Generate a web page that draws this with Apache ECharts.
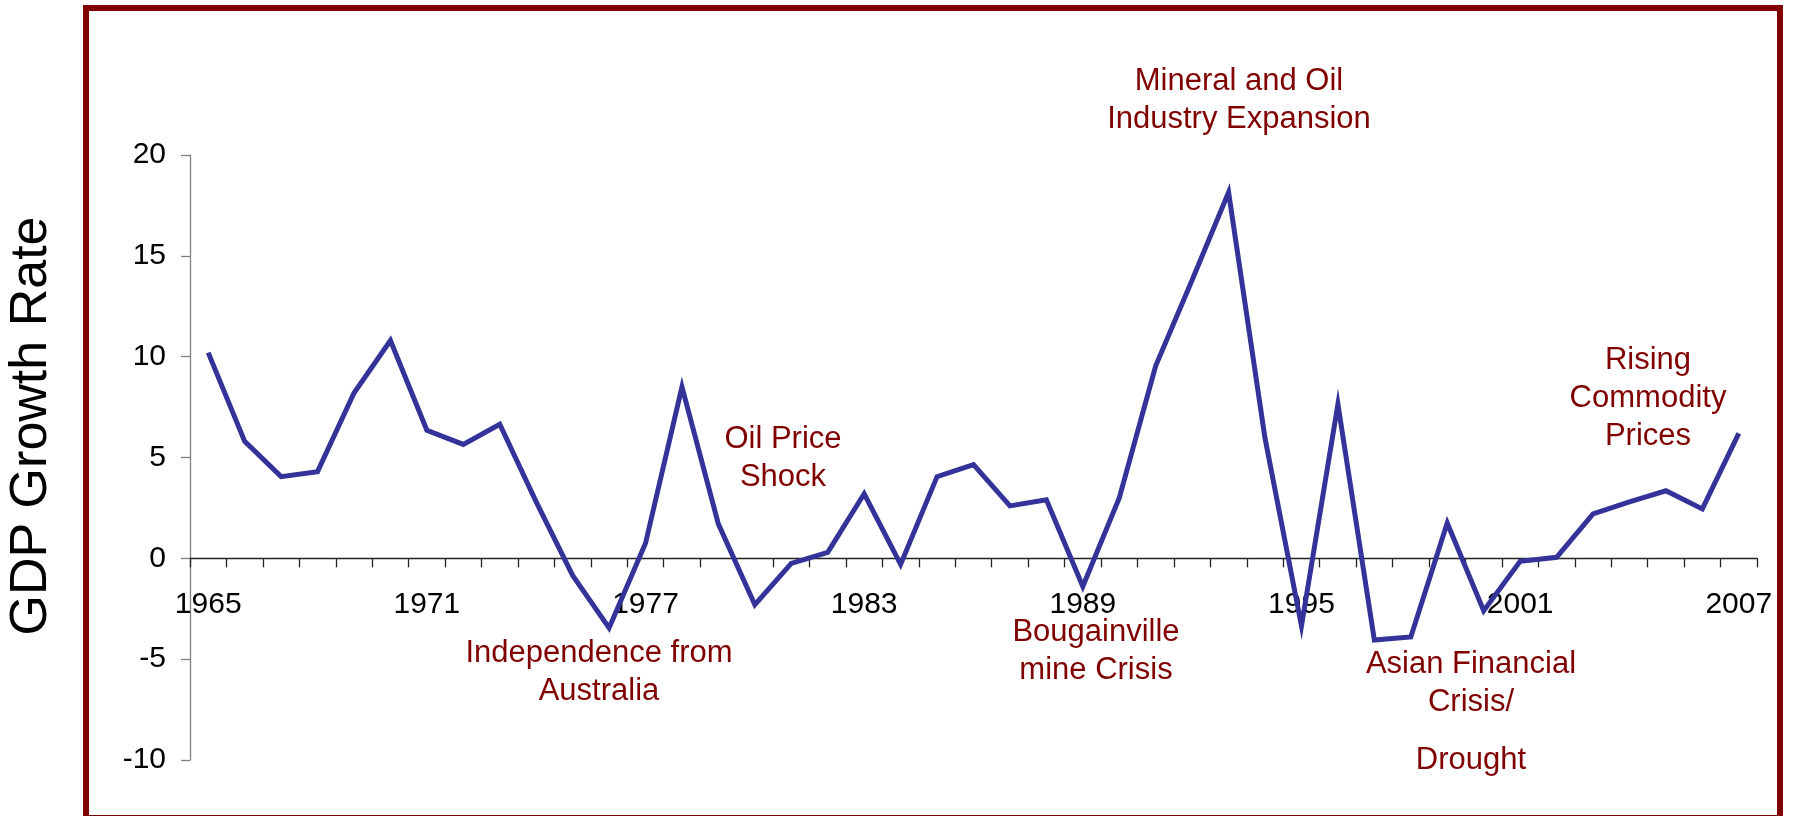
<!DOCTYPE html>
<html>
<head>
<meta charset="utf-8">
<script src="https://cdn.jsdelivr.net/npm/echarts@6/dist/echarts.min.js"></script>
<style>
html,body{margin:0;padding:0;background:#fff;}
#chart{width:1793px;height:816px;}
</style>
</head>
<body>
<div id="chart"></div>
<script>
// ---- data ----
const years = [1965,1966,1967,1968,1969,1970,1971,1972,1973,1974,1975,1976,1977,1978,1979,1980,1981,1982,1983,1984,1985,1986,1987,1988,1989,1990,1991,1992,1993,1994,1995,1996,1997,1998,1999,2000,2001,2002,2003,2004,2005,2006,2007].map(String);
const gdpGrowth = [10.2,5.8,4.05,4.3,8.2,10.8,6.35,5.65,6.65,2.8,-0.85,-3.45,0.75,8.5,1.7,-2.3,-0.25,0.3,3.2,-0.3,4.05,4.65,2.6,2.9,-1.4,3.0,9.55,13.8,18.15,5.95,-3.35,7.65,-4.05,-3.9,1.75,-2.6,-0.15,0.05,2.2,2.8,3.35,2.45,6.2];
const yTicks = [-10,-5,0,5,10,15,20];
const yAxisTitle = 'GDP Growth Rate';
const annotations = [
  'Independence from\nAustralia',
  'Oil Price\nShock',
  'Mineral and Oil\nIndustry Expansion',
  'Bougainville\nmine Crisis',
  'Asian Financial\nCrisis/',
  'Drought',
  'Rising\nCommodity\nPrices'
];

// ---- layout ----
const FONT = '"Liberation Sans", Arial, sans-serif';
const RED = '#800000';
const GRID = {left:190, top:155, width:1567, height:605};
const annoPos = [[599,672],[783,458],[1239,100],[1096,651],[1471,683],[1471,760],[1648,398]];
const yMin = yTicks[0], yMax = yTicks[yTicks.length-1];
// move the category axis up so it crosses the value axis at 0
const xAxisOffset = -((0 - yMin) / (yMax - yMin)) * GRID.height;

const chart = echarts.init(document.getElementById('chart'), null, {renderer:'canvas'});

const graphics = [
  {type:'rect', shape:{x:86,y:8,width:1694,height:810}, style:{fill:'none', stroke:RED, lineWidth:6}, z:0},
  {type:'text', x:32, y:426, rotation:Math.PI/2,
   style:{text:yAxisTitle, font:'52px '+FONT, fill:'#000', align:'center', verticalAlign:'middle', textAlign:'center', textVerticalAlign:'middle'}}
];
annotations.forEach((t,i)=>{
  graphics.push({type:'text', x:annoPos[i][0], y:annoPos[i][1],
    style:{text:t, font:'31px '+FONT, fill:RED, lineHeight:38, align:'center', verticalAlign:'middle', textAlign:'center', textVerticalAlign:'middle'}});
});

chart.setOption({
  animation:false,
  backgroundColor:'#fff',
  grid:Object.assign({containLabel:false}, GRID),
  xAxis:{
    type:'category', data:years, boundaryGap:true, position:'bottom', offset:xAxisOffset,
    axisLine:{onZero:false, lineStyle:{color:'#222', width:1.3}},
    axisTick:{show:true, interval:0, length:9, inside:false, lineStyle:{color:'#222', width:1.3}},
    axisLabel:{interval:5, margin:31, fontSize:30, color:'#000', fontFamily:FONT},
    splitLine:{show:false}
  },
  yAxis:{
    type:'value', min:yMin, max:yMax, interval:5,
    axisLine:{show:true, lineStyle:{color:'#808080', width:1.3}},
    axisTick:{show:true, length:9, lineStyle:{color:'#808080', width:1.3}},
    axisLabel:{margin:24, fontSize:30, color:'#000', fontFamily:FONT},
    splitLine:{show:false}
  },
  series:[{
    type:'line', data:gdpGrowth, symbol:'none', smooth:false,
    lineStyle:{color:'#333399', width:5, join:'miter'},
    itemStyle:{color:'#333399'}, z:3
  }],
  graphic:graphics
});
</script>
</body>
</html>
